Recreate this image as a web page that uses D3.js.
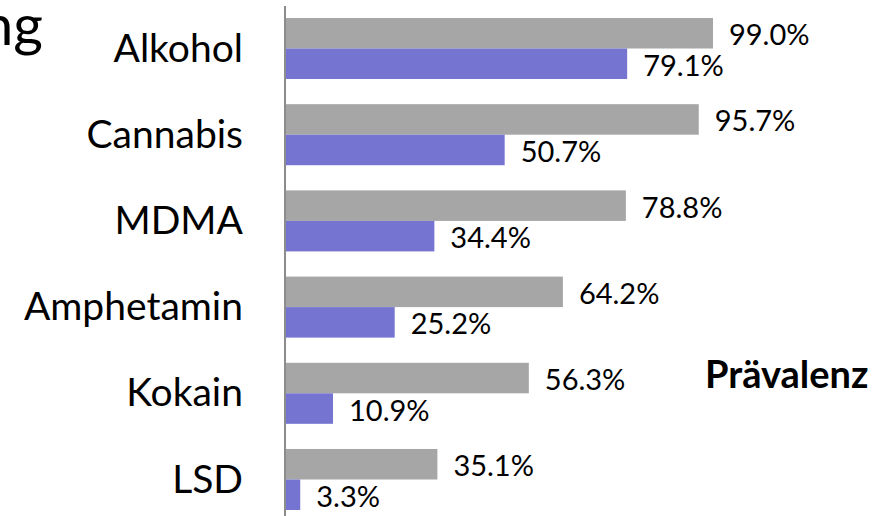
<!DOCTYPE html>
<html>
<head>
<meta charset="utf-8">
<script src="https://cdn.jsdelivr.net/npm/d3@7"></script>
<style>
  html, body { margin: 0; padding: 0; background: #fff; }
  svg { display: block; }
  text { font-family: Lato, "Open Sans", sans-serif; fill: #000; }
</style>
</head>
<body>
<svg id="chart" width="889" height="516"></svg>
<script>
const categories = ["Alkohol", "Cannabis", "MDMA", "Amphetamin", "Kokain", "LSD"];
const seriesNames = ["gesamt", "aktuell"];
const seriesGray = [99.0, 95.7, 78.8, 64.2, 56.3, 35.1];
const seriesBlue = [79.1, 50.7, 34.4, 25.2, 10.9, 3.3];
const seriesColors = ["#a6a6a6", "#7575d1"];
const titleText = "Verbreitung";
const sideLabel = "Prävalenz";

const svg = d3.select("#chart");
const W = 889, H = 516;

const x = d3.scaleLinear().domain([0, 100]).range([286, 717.3]);
const y = d3.scaleBand().domain(categories).range([5.4, 522.6]).paddingInner(0.292).paddingOuter(0.146);
const ySub = d3.scaleBand().domain(seriesNames).range([0, y.bandwidth()]).padding(0);

const rows = categories.map((c, i) => ({
  cat: c,
  vals: [
    { s: seriesNames[0], v: seriesGray[i], color: seriesColors[0] },
    { s: seriesNames[1], v: seriesBlue[i], color: seriesColors[1] }
  ]
}));

// title fragment (cut off at left edge, as in the reference)
svg.append("text")
  .attr("x", 43).attr("y", 45)
  .attr("text-anchor", "end")
  .style("font-size", "57px")
  .text(titleText);

const g = svg.append("g");
const groups = g.selectAll("g.row").data(rows).join("g")
  .attr("class", "row")
  .attr("transform", d => `translate(0,${y(d.cat)})`);

groups.selectAll("rect").data(d => d.vals).join("rect")
  .attr("x", x(0))
  .attr("y", d => ySub(d.s))
  .attr("width", d => x(d.v) - x(0))
  .attr("height", ySub.bandwidth())
  .attr("fill", d => d.color);

groups.selectAll("text.val").data(d => d.vals).join("text")
  .attr("class", "val")
  .attr("x", d => x(d.v) + 16)
  .attr("y", d => ySub(d.s) + ySub.bandwidth() / 2 + 12)
  .style("font-size", "29px")
  .text(d => d.v.toFixed(1) + "%");

// category axis
const yAxis = d3.axisLeft(y).tickSize(0).tickPadding(0);
const axisG = svg.append("g").attr("transform", `translate(285,0)`).call(yAxis);
axisG.select(".domain").remove();
axisG.selectAll(".tick text")
  .attr("x", -42)
  .attr("dy", null)
  .attr("y", 13)
  .style("font-size", "39px")
  .style("font-family", "Lato, 'Open Sans', sans-serif")
  .attr("fill", "#000");

svg.append("line")
  .attr("x1", 285).attr("x2", 285)
  .attr("y1", 6).attr("y2", H)
  .attr("stroke", "#8c8c8c").attr("stroke-width", 2);

svg.append("text")
  .attr("x", 705).attr("y", 388)
  .style("font-size", "38px")
  .style("font-weight", "bold")
  .text(sideLabel);
</script>
</body>
</html>
